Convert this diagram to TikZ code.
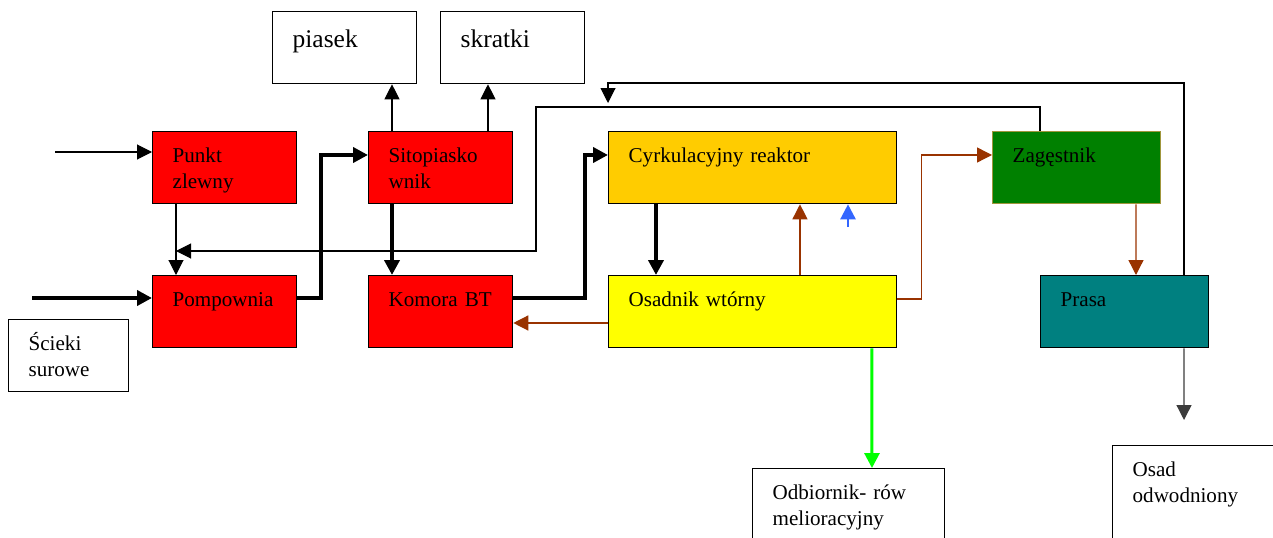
\documentclass[tikz,border=0pt]{standalone}
\usepackage{fontspec}
\setmainfont{Liberation Serif}
\usetikzlibrary{arrows.meta,positioning,calc}
\definecolor{pomarancz}{RGB}{255,204,0}
\definecolor{zolty}{RGB}{255,255,0}
\definecolor{ziel}{RGB}{0,128,0}
\definecolor{morski}{RGB}{0,128,128}
\definecolor{braz}{RGB}{153,51,0}
\definecolor{niebieski}{RGB}{51,102,255}
\definecolor{oliwka}{RGB}{160,150,60}
\definecolor{jasnoziel}{RGB}{0,255,0}
\definecolor{grafit}{RGB}{60,60,60}

\begin{document}
\begin{tikzpicture}[x=0.02cm,y=-0.02cm,
  blok/.style={draw,line width=0.75pt,anchor=north west,inner xsep=0.4cm,inner ysep=0pt,
    align=left,text height=0.62cm,font=\fontsize{12}{14.5}\selectfont},
  maly/.style={blok,text width=2.08cm,text depth=0.82cm},
  duzy/.style={blok,text width=4.96cm,text depth=0.82cm},
  sredni/.style={blok,text width=2.56cm,text depth=0.82cm},
  odpad/.style={blok,text width=2.08cm,text height=0.72cm,text depth=0.72cm,
    font=\fontsize{14.5}{17}\selectfont},
  grot/.style={-{Triangle[length=0.3cm,width=0.3cm]}},
  cienka/.style={grot,line width=0.6pt},
  gruba/.style={grot,line width=2.3pt},
  brazowa/.style={grot,draw=braz,line width=0.75pt}]
\useasboundingbox (0,0) rectangle (1273,537);
\clip (0,0) rectangle (1273,537);

% Bloki
\node[maly,fill=red] (punkt) at (152,131) {Punkt\\zlewny};
\node[maly,fill=red] (pomp) at (152,275) {Pompownia};
\node[blok,text width=1.6cm,text depth=0.82cm] (scieki) at (8,319) {Ścieki\\surowe};
\node[odpad] (piasek) at (272,11) {piasek};
\node[odpad] (skratki) at (440,11) {skratki};
\node[maly,fill=red] (sito) at (368,131) {Sitopiasko\\wnik};
\node[maly,fill=red] (komora) at (368,275) {Komora BT};
\node[duzy,fill=pomarancz] (cyrk) at (608,131) {Cyrkulacyjny reaktor};
\node[duzy,fill=zolty] (osadnik) at (608,275) {Osadnik wtórny};
\node[sredni,fill=ziel,draw=oliwka] (zag) at (992,131) {Zagęstnik};
\node[sredni,fill=morski] (prasa) at (1040,275) {Prasa};
\node[blok,text width=3.04cm,text depth=1.5cm] (odbior) at (752,468) {Odbiornik- rów\\melioracyjny};
\node[sredni,text depth=1.9cm] (osad) at (1112,445) {Osad\\odwodniony};

% Wolne konce i punkty wyjscia
\coordinate (wej1) at (55,152);
\coordinate (wej2) at (32,298);
\coordinate (zwrot) at (176,251);
\coordinate (doreakt) at (608,103);
\coordinate (tlen) at (848,227);
\coordinate (wyjscie) at (1184,420);
\coordinate (dopiasku) at ([xshift=0.48cm]sito.north west);
\coordinate (doskratek) at ([xshift=2.4cm]sito.north west);

% Linia sciekow
\draw[cienka] (wej1) -- (wej1 -| punkt.west);
\draw[gruba] (wej2) -- (wej2 -| pomp.west);
\draw[cienka] ([xshift=0.48cm]punkt.south west) -- ([xshift=0.48cm]pomp.north west);
\draw[gruba] ([yshift=-0.46cm]pomp.north east) -- ++(0.48cm,0) |- ([yshift=-0.48cm]sito.north west);
\draw[cienka] (dopiasku) -- (dopiasku |- piasek.south);
\draw[cienka] (doskratek) -- (doskratek |- skratki.south);
\draw[gruba] ([xshift=0.48cm]sito.south west) -- ([xshift=0.48cm]komora.north west);
\draw[gruba] ([yshift=-0.46cm]komora.north east) -- ++(1.44cm,0) |- ([yshift=-0.48cm]cyrk.north west);
\draw[gruba] ([xshift=0.96cm]cyrk.south west) -- ([xshift=0.96cm]osadnik.north west);
\draw[grot,draw=jasnoziel,line width=1.7pt] ([xshift=5.28cm]osadnik.south west) -- ([xshift=2.4cm]odbior.north west);

% Osad
\draw[brazowa] ([xshift=3.84cm]osadnik.north west) -- ([xshift=3.84cm]cyrk.south west);
\draw[grot,draw=niebieski,line width=1.4pt] (tlen) -- (tlen |- cyrk.south);
\draw[brazowa] ([yshift=-0.96cm]osadnik.north west) -- ([yshift=-0.96cm]komora.north east);
\draw[brazowa] ([yshift=-0.48cm]osadnik.north east) -- ++(0.48cm,0) |- ([yshift=-0.48cm]zag.north west);
\draw[brazowa] ([xshift=2.88cm]zag.south west) -- ([xshift=1.92cm]prasa.north west);
\draw[grot,draw=grafit,line width=0.75pt] ([xshift=2.88cm]prasa.south west) -- (wyjscie);

% Odcieki
\draw[cienka] ([xshift=0.96cm]zag.north west) |- (536,107) -- (536,251) -- (zwrot);
\draw[cienka] ([xshift=2.88cm]prasa.north west) |- (608,83) -- (doreakt);
\end{tikzpicture}
\end{document}
